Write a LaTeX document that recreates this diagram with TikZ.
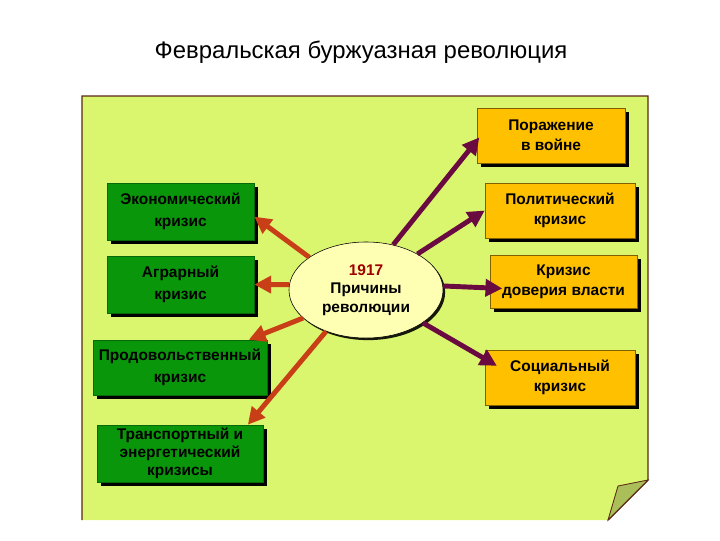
\documentclass[tikz,border=0pt]{standalone}
\usepackage{fontspec}
\setmainfont{Liberation Sans}
\usetikzlibrary{arrows.meta,shadows,shapes.geometric}
\definecolor{pagegreen}{RGB}{218,245,110}
\definecolor{pageedge}{RGB}{90,40,20}
\definecolor{foldgreen}{RGB}{170,190,90}
\definecolor{boxgreen}{RGB}{10,150,10}
\definecolor{boxorange}{RGB}{255,192,0}
\definecolor{ovalyellow}{RGB}{255,255,180}
\definecolor{arrowred}{RGB}{200,62,22}
\definecolor{arrowpurple}{RGB}{105,10,65}
\definecolor{yeardark}{RGB}{160,0,0}

\begin{document}
\begin{tikzpicture}[x=0.025cm,y=-0.025cm,
  boxshadow/.style={drop shadow={shadow xshift=3pt,shadow yshift=-3pt,fill=black,opacity=1}},
  greenbox/.style={rectangle,fill=boxgreen,draw=boxgreen!70!black,boxshadow,
    inner sep=0pt,align=center,text=black,
    font=\fontsize{11}{15.5}\selectfont\bfseries},
  orangebox/.style={rectangle,fill=boxorange,draw=boxorange!50!black,boxshadow,
    inner sep=0pt,align=center,text=black,
    font=\fontsize{11}{14}\selectfont\bfseries},
  redarrow/.style={draw=arrowred,line width=3.5pt,-{Triangle[length=12pt,width=12pt]}},
  purparrow/.style={draw=arrowpurple,line width=3.5pt,-{Triangle[length=12pt,width=12pt]}}]
  \useasboundingbox (0,0) rectangle (720,540);

  % page with folded corner
  \fill[pagegreen] (82,96) -- (648,96) -- (648,480) -- (608,520) -- (82,520) -- cycle;
  \draw[pageedge,line width=1pt] (82,520) -- (82,96) -- (648,96) -- (648,480) -- (608,520);
  \filldraw[fill=foldgreen,draw=pageedge,line width=0.6pt] (608,520) -- (618,486) -- (648,480) -- cycle;

  \node[font=\fontsize{17}{19}\selectfont] (title) at (361,52) {Февральская буржуазная революция};

  % centre
  \node[ellipse,fill=ovalyellow,draw=black,line width=0.4pt,inner sep=0pt,
    minimum width=3.85cm,minimum height=2.4cm,
    drop shadow={shadow xshift=1.5pt,shadow yshift=-1.5pt,fill=black,opacity=0.9},
    align=center,font=\fontsize{11}{13}\selectfont\bfseries] (cause) at (366,290)
    {\textcolor{yeardark}{1917}\\Причины\\революции};

  % left side
  \node[greenbox,minimum width=3.675cm,minimum height=1.425cm] (eco) at (180.5,211.5) {Экономический\\кризис};
  \node[greenbox,minimum width=3.675cm,minimum height=1.425cm] (agr) at (180.5,284.5) {Аграрный\\кризис};
  \node[greenbox,minimum width=4.35cm,minimum height=1.375cm] (food) at (180,367.5) {Продовольственный\\кризис};
  \node[greenbox,minimum width=4.15cm,minimum height=1.425cm,
    font=\fontsize{11}{13}\selectfont\bfseries] (trans) at (180,453.5) {Транспортный и\\энергетический\\кризисы};

  % right side
  \node[orangebox,minimum width=3.7cm,minimum height=1.375cm] (defeat) at (551,135.5) {Поражение\\в войне};
  \node[orangebox,minimum width=3.75cm,minimum height=1.375cm] (polit) at (560,210.5) {Политический\\кризис};
  \node[orangebox,minimum width=3.675cm,minimum height=1.325cm] (trust) at (563.5,281.5) {Кризис\\доверия власти};
  \node[orangebox,minimum width=3.75cm,minimum height=1.375cm] (social) at (560,377.5) {Социальный\\кризис};

  \draw[redarrow] (cause.150) -- (eco.-4);
  \draw[redarrow] (cause.176) -- (agr.east);
  \draw[redarrow] (cause.204) -- (food.22);
  \draw[redarrow] (cause.226) -- (trans.23);

  \draw[purparrow,shorten >=-3pt] (cause.59) -- (defeat.184);
  \draw[purparrow] (cause.35) -- (polit.west);
  \draw[purparrow,shorten >=-9pt] (cause.3) -- (trust.185);
  \draw[purparrow,shorten >=-10pt] (cause.-30) -- (social.166);
\end{tikzpicture}
\end{document}
